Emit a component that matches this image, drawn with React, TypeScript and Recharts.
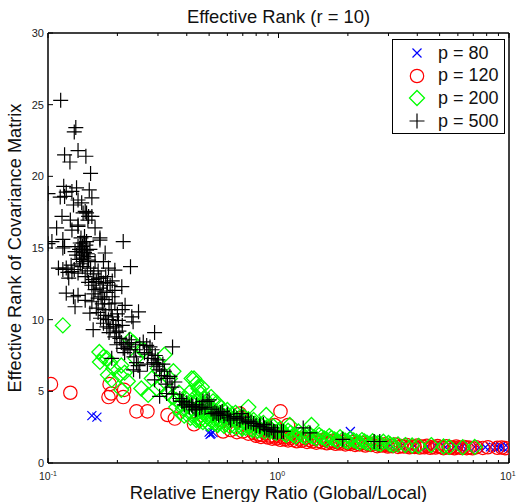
import React from 'react';
import { Scatter, ScatterChart, XAxis, YAxis, Legend } from 'recharts';

const FONT = '"Liberation Sans", Arial, sans-serif';

const xTicks = [0.1, 0.2, 0.3, 0.4, 0.5, 0.6, 0.7, 0.8, 0.9, 1, 2, 3, 4, 5, 6, 7, 8, 9, 10];
const xDecades = [0.1, 1, 10];
const xExponents = ['-1', '0', '1'];
const yTicks = [0, 5, 10, 15, 20, 25, 30];

const p80 = [
  [0.155, 3.3], [0.163, 3.2], [0.5, 2.15], [0.51, 2.05], [0.52, 2.12], [0.505, 2.0], [2.05, 2.2],
  [3.05, 1.25], [3.4, 1.2], [3.9, 1.2], [4.4, 1.15], [4.8, 1.2], [5.3, 1.1], [5.8, 1.15], [6.1, 1.1],
  [6.3, 1.18], [6.6, 1.1], [7.1, 1.12], [7.4, 1.05], [7.9, 1.1], [8.3, 1.12], [8.7, 1.05], [9, 1.1],
  [9.2, 1.15], [9.45, 1.05], [9.9, 1.08],
];

const p120 = [
  [0.103, 5.5], [0.125, 4.9], [0.185, 5.5], [0.183, 4.6], [0.188, 4.85], [0.212, 4.6], [0.214, 5.1],
  [0.242, 3.6], [0.27, 3.6], [0.33, 3.35], [0.355, 3.1], [0.43, 2.7], [0.575, 2.2], [0.69, 3.15],
  [1.02, 3.6], [1.1, 2.65], [0.96, 2.65], [0.68, 3.45], [0.62, 2.3], [0.66, 2.15], [0.7, 2.2],
  [0.74, 2.05], [0.78, 2.1], [0.82, 2.0], [0.85, 1.95], [0.88, 2.05], [0.92, 1.9], [0.96, 1.85],
  [1, 1.9], [1.04, 1.8], [1.08, 1.85], [1.13, 1.75], [1.18, 1.8], [1.24, 1.7], [1.3, 1.72],
  [1.36, 1.62], [1.42, 1.68], [1.5, 1.55], [1.57, 1.62], [1.65, 1.5], [1.72, 1.55], [1.8, 1.45],
  [1.9, 1.5], [2, 1.38], [2.1, 1.45], [2.2, 1.35], [2.3, 1.4], [2.45, 1.3], [2.6, 1.36], [2.75, 1.25],
  [2.9, 1.3], [3.05, 1.2], [3.2, 1.28], [3.4, 1.18], [3.6, 1.25], [3.8, 1.15], [4, 1.22], [4.2, 1.14],
  [4.4, 1.2], [4.65, 1.12], [4.9, 1.18], [5.1, 1.1], [5.35, 1.16], [5.6, 1.1], [5.9, 1.14], [6.1, 1.08],
  [6.4, 1.12], [6.7, 1.08], [7.2, 1.1], [7.7, 1.05], [8.1, 1.1], [8.9, 1.06], [9.3, 1.08], [9.6, 1.04],
  [0.8, 1.9], [0.84, 1.82], [0.9, 1.78], [0.94, 1.7], [0.98, 1.72], [1.02, 1.62], [1.06, 1.66], [1.1, 1.58],
  [1.15, 1.6], [1.2, 1.52], [1.26, 1.55], [1.33, 1.47], [1.4, 1.5], [1.46, 1.42], [1.54, 1.45], [1.62, 1.38],
  [1.7, 1.42], [1.77, 1.34], [1.85, 1.37], [1.95, 1.3], [2.05, 1.33], [2.15, 1.26], [2.25, 1.3], [2.38, 1.22],
  [2.52, 1.26], [2.68, 1.18], [2.82, 1.22], [2.98, 1.15], [3.12, 1.18], [3.3, 1.12], [3.5, 1.15], [3.7, 1.1],
  [3.9, 1.12], [4.1, 1.08], [4.3, 1.1], [4.55, 1.06], [4.8, 1.08], [5.2, 1.04], [5.5, 1.06], [5.8, 1.03],
  [6.25, 1.05], [6.55, 1.04], [6.95, 1.03],
];

const p200 = [
  [0.116, 9.6], [0.167, 7.75], [0.174, 7.4], [0.168, 7.05], [0.18, 7.3], [0.186, 7.0], [0.192, 6.6],
  [0.208, 6.8], [0.205, 6.15], [0.182, 6.15], [0.189, 5.8], [0.208, 5.1], [0.227, 8.6], [0.222, 5.7],
  [0.254, 5.2], [0.272, 4.75], [0.282, 5.9], [0.32, 7.55], [0.35, 6.4], [0.338, 5.9], [0.296, 5.2],
  [0.42, 5.9], [0.44, 5.55], [0.45, 5.2], [0.43, 5.9], [0.465, 5.3], [0.54, 4.2], [0.74, 3.9],
  [0.885, 3.35], [1.39, 2.65], [1.12, 2.65], [0.24, 7.3], [0.26, 7.9], [0.235, 8.4], [0.215, 6.3],
  [0.3, 6.6], [0.31, 5.4], [0.33, 4.9], [0.345, 4.6], [0.36, 4.4], [0.37, 4.9], [0.38, 4.1],
  [0.385, 3.8], [0.395, 4.5], [0.405, 3.6], [0.41, 4.9], [0.42, 4.2], [0.425, 3.4], [0.435, 4.6],
  [0.44, 3.8], [0.45, 3.2], [0.455, 4.9], [0.46, 4.1], [0.47, 3.5], [0.475, 4.5], [0.48, 3.0],
  [0.49, 3.9], [0.5, 3.3], [0.51, 4.6], [0.515, 2.9], [0.525, 3.7], [0.54, 3.1], [0.55, 2.8],
  [0.56, 3.9], [0.575, 3.3], [0.59, 2.7], [0.6, 3.7], [0.62, 3.0], [0.64, 2.6], [0.65, 3.5],
  [0.67, 2.85], [0.69, 2.5], [0.71, 3.2], [0.73, 2.7], [0.76, 2.4], [0.78, 3.0], [0.8, 2.55],
  [0.83, 2.3], [0.86, 2.8], [0.89, 2.35], [0.92, 2.2], [0.95, 2.55], [0.98, 2.1], [1.02, 2.4],
  [1.06, 2.05], [1.1, 2.25], [1.16, 1.95], [1.22, 2.2], [1.28, 1.9], [1.35, 2.1], [1.42, 1.8],
  [1.5, 1.95], [1.58, 1.72], [1.66, 1.88], [1.75, 1.65], [1.85, 1.8], [1.95, 1.55], [2.05, 1.7],
  [2.18, 1.5], [2.3, 1.6], [2.42, 1.42], [2.56, 1.52], [2.7, 1.38], [2.85, 1.48], [3.05, 1.3],
  [3.3, 1.3], [3.55, 1.25], [3.8, 1.22], [4.05, 1.2], [4.6, 1.25], [5.2, 1.15], [5.5, 1.12],
  [6.3, 1.1], [7.1, 1.12],
  [0.36, 3.9], [0.375, 3.5], [0.39, 3.3], [0.4, 4.0], [0.415, 3.15], [0.43, 3.6], [0.44, 3.0], [0.445, 4.3],
  [0.455, 2.95], [0.465, 3.7], [0.47, 2.85], [0.485, 4.1], [0.49, 3.2], [0.495, 2.75], [0.505, 3.6], [0.52, 4.3],
  [0.53, 2.75], [0.535, 3.4], [0.545, 2.65], [0.555, 3.5], [0.565, 3.0], [0.58, 2.6], [0.585, 3.6], [0.6, 2.9],
  [0.605, 3.3], [0.615, 2.55], [0.63, 3.4], [0.645, 3.05], [0.655, 2.45], [0.68, 3.2], [0.695, 2.4], [0.7, 2.9],
  [0.72, 2.45], [0.74, 3.05], [0.75, 2.6], [0.77, 2.3], [0.79, 2.75], [0.81, 2.25], [0.84, 2.65], [0.87, 2.2],
  [0.9, 2.55], [0.93, 2.35], [0.96, 2.15], [1.0, 2.25], [1.04, 2.15], [1.08, 1.95], [1.13, 2.1], [1.19, 1.85],
  [1.25, 2.0], [1.31, 1.8], [1.38, 1.9], [1.46, 1.7], [1.54, 1.82], [1.62, 1.62], [1.7, 1.75], [1.8, 1.55],
  [1.9, 1.65], [2.0, 1.5], [2.12, 1.58], [2.25, 1.42], [2.36, 1.5], [2.5, 1.35], [2.62, 1.42], [2.78, 1.32],
  [3.0, 1.4], [3.15, 1.25],
];

const p500 = [
  [0.1135, 25.3], [0.132, 23.4], [0.13, 23.1], [0.135, 21.8], [0.118, 21.5], [0.1245, 21], [0.146, 21.4],
  [0.153, 20.2], [0.117, 19.3], [0.133, 19.2], [0.12, 18.9], [0.151, 19.05], [0.127, 18.95], [0.1, 18.8],
  [0.113, 18.55], [0.118, 18.6], [0.155, 18.5], [0.135, 18.35], [0.14, 18.15], [0.129, 18], [0.115, 17.2],
  [0.125, 16.95], [0.109, 16.4], [0.135, 16.5], [0.127, 16.25], [0.16, 16.4], [0.147, 17.45], [0.155, 17.2],
  [0.142, 17.45], [0.149, 16.95], [0.168, 15.7], [0.104, 15.45], [0.116, 15.6], [0.118, 15.1], [0.138, 15.35],
  [0.147, 15.45], [0.212, 15.45], [0.145, 17.55], [0.15, 17.2], [0.135, 16.6], [0.1, 15.3], [0.116, 15],
  [0.142, 15.35], [0.135, 15.1], [0.147, 14.85], [0.14, 14.5], [0.131, 14.75], [0.168, 15.55], [0.177, 14.65],
  [0.15, 14.15], [0.142, 14.05], [0.16, 14.05], [0.174, 14.05], [0.228, 13.7], [0.111, 13.6], [0.12, 13.6],
  [0.116, 13.5], [0.127, 13.35], [0.135, 13.25], [0.123, 12.9], [0.145, 13], [0.157, 12.8], [0.183, 13.6],
  [0.195, 13.45], [0.162, 12.65], [0.174, 12.55], [0.186, 12.4], [0.209, 12.3], [0.168, 12.2], [0.195, 12.05],
  [0.12, 11.85], [0.135, 11.7], [0.129, 11.6], [0.145, 11.35], [0.165, 11.5], [0.155, 11.25], [0.195, 11.15],
  [0.216, 11], [0.131, 10.9], [0.162, 10.8], [0.152, 10.45], [0.247, 10.55], [0.231, 10.2], [0.202, 9.95],
  [0.192, 9.65], [0.174, 9.75], [0.186, 9.4], [0.157, 9.3], [0.18, 9.5], [0.234, 9.85], [0.29, 9.1],
  [0.199, 8.25], [0.259, 8.45], [0.227, 7.9], [0.212, 8], [0.347, 8.1], [0.277, 8.1], [0.25, 8.25],
  [0.282, 7.3], [0.3, 7.2], [0.189, 7.3], [0.235, 6.5], [0.25, 6.4], [0.32, 6.4], [0.338, 6.05],
  [0.29, 5.8], [0.355, 5.65], [0.327, 4.85], [0.305, 4.65], [0.373, 4.5], [0.39, 4.05], [0.41, 3.9],
  [0.44, 4.05], [0.38, 4.3], [0.455, 3.85], [0.49, 4.3], [0.52, 3.45], [0.56, 3.5], [0.61, 3.15],
  [0.68, 3], [0.74, 2.9], [0.83, 2.55], [0.95, 2.2], [0.385, 4.3], [0.425, 3.95], [0.47, 4.3],
  [0.5, 4.4], [0.54, 3.45], [0.69, 3.45], [0.74, 3], [0.83, 2.65], [0.965, 2.2], [1.05, 2.2],
  [1.03, 2.2], [1.28, 2.45], [1.37, 2.1], [1.9, 1.65], [2.6, 1.5], [2.75, 1.5], [0.14, 14.9],
  [0.137, 14.2], [0.144, 15.8], [0.148, 14.6], [0.139, 15.7], [0.133, 14.5], [0.153, 13.6], [0.158, 13.2],
  [0.165, 13.4], [0.17, 12.9], [0.178, 13], [0.19, 12.7], [0.18, 11.9], [0.172, 11.1], [0.188, 10.7],
  [0.178, 10.3], [0.2, 10.4], [0.21, 10.7], [0.184, 9.1], [0.195, 8.8], [0.205, 8.7], [0.218, 8.3],
  [0.225, 8.6], [0.24, 7.9], [0.262, 7.7], [0.272, 7.6], [0.288, 7], [0.295, 6.75], [0.31, 6.1],
  [0.325, 5.5], [0.345, 5.3], [0.4, 4.2], [0.435, 3.7], [0.465, 3.9], [0.51, 3.75], [0.58, 3.3],
  [0.64, 3.25], [0.72, 2.8], [0.78, 2.75], [0.87, 2.45], [0.91, 2.3], [0.99, 2.15],
  [0.141, 15.1], [0.144, 14.7], [0.137, 14.9], [0.146, 15.2], [0.143, 14.3], [0.149, 14.4], [0.152, 14.9], [0.138, 13.9],
  [0.13, 13.5], [0.126, 13.8], [0.122, 13.3], [0.141, 13.7], [0.148, 13.4], [0.155, 12.4], [0.16, 12.1], [0.15, 12.6],
  [0.166, 12.9], [0.173, 12], [0.181, 12.6], [0.17, 11.6], [0.176, 11.4], [0.184, 11.1], [0.158, 11.8], [0.19, 11.6],
  [0.165, 10.5], [0.169, 10.1], [0.175, 10.7], [0.183, 10], [0.19, 10.2], [0.197, 9.5], [0.203, 9.2], [0.21, 9.6],
  [0.198, 9.1], [0.208, 8.4], [0.215, 7.7], [0.222, 8.1], [0.23, 8.4], [0.236, 7.4], [0.242, 7], [0.246, 6.8],
  [0.268, 8.2], [0.283, 7.9], [0.27, 6.9], [0.292, 7.5], [0.3, 6.9], [0.305, 6.5], [0.315, 6.9], [0.33, 5.9],
  [0.35, 4.8], [0.42, 4.05], [0.44, 3.75], [0.48, 3.85], [0.53, 3.55], [0.55, 3.35], [0.57, 3.6], [0.6, 3.4],
  [0.62, 3.0], [0.66, 3.1], [0.7, 3.2], [0.76, 2.85], [0.8, 2.6], [0.86, 2.7], [0.89, 2.35], [0.93, 2.45],
];

const legendItems = [
  { label: 'p = 80', shape: 'x' },
  { label: 'p = 120', shape: 'o' },
  { label: 'p = 200', shape: 'd' },
  { label: 'p = 500', shape: '+' },
];

const toRows = (points: number[][]) => points.map(([x, y]) => ({ x, y }));

const Cross = ({ cx, cy }: any) => (
  <path d={`M${cx - 4.5} ${cy - 4.5}L${cx + 4.5} ${cy + 4.5}M${cx - 4.5} ${cy + 4.5}L${cx + 4.5} ${cy - 4.5}`} stroke="#0000ff" strokeWidth={1.2} fill="none" />
);
const Ring = ({ cx, cy }: any) => <circle cx={cx} cy={cy} r={6.7} stroke="#ff0000" strokeWidth={1.2} fill="none" />;
const Diamond = ({ cx, cy }: any) => (
  <path d={`M${cx} ${cy - 7.5}L${cx + 7.5} ${cy}L${cx} ${cy + 7.5}L${cx - 7.5} ${cy}Z`} stroke="#00ff00" strokeWidth={1.3} fill="none" />
);
const Plus = ({ cx, cy }: any) => (
  <path d={`M${cx - 7.5} ${cy}L${cx + 7.5} ${cy}M${cx} ${cy - 7.5}L${cx} ${cy + 7.5}`} stroke="#000000" strokeWidth={1.2} fill="none" />
);

const XTick = ({ x, y, payload, mirror }: any) => {
  const decade = xDecades.indexOf(payload.value);
  const len = decade >= 0 ? 5 : 3;
  return (
    <g>
      <line x1={x} x2={x} y1={y} y2={mirror ? y + len : y - len} stroke="#000" strokeWidth={1} />
      {!mirror && decade >= 0 && (
        <text x={x - 9} y={y + 17} fontSize={10.5} fontFamily={FONT} fill="#222">
          10
          <tspan dy={-4} fontSize={7}>{xExponents[decade]}</tspan>
        </text>
      )}
    </g>
  );
};

const YTick = ({ x, y, payload, right }: any) => (
  <g>
    <line x1={x} x2={right ? x - 5 : x + 5} y1={y} y2={y} stroke="#000" strokeWidth={1} />
    {!right && (
      <text x={x - 4} y={y + 4} fontSize={11} textAnchor="end" fontFamily={FONT} fill="#222">
        {payload.value}
      </text>
    )}
  </g>
);

const Glyph = ({ shape }: { shape: string }) => {
  const c = { cx: 12, cy: 10 };
  return (
    <svg width={24} height={20} style={{ display: 'block' }}>
      {shape === 'x' && <Cross {...c} />}
      {shape === 'o' && <Ring {...c} />}
      {shape === 'd' && <Diamond {...c} />}
      {shape === '+' && <Plus {...c} />}
    </svg>
  );
};

const LegendBox = () => (
  <div
    style={{
      position: 'absolute',
      left: 392,
      top: 39,
      width: 111,
      height: 93,
      boxSizing: 'content-box',
      border: '1px solid #000',
      background: '#fff',
      fontFamily: FONT,
      fontSize: 18,
      color: '#111',
    }}
  >
    {legendItems.map((item, i) => (
      <div key={item.label} style={{ position: 'absolute', top: 2 + i * 22.7, left: 12, height: 22, display: 'flex', alignItems: 'center', whiteSpace: 'nowrap' }}>
        <Glyph shape={item.shape} />
        <span style={{ marginLeft: 9 }}>{item.label}</span>
      </div>
    ))}
  </div>
);

const App = () => {
  const axisLine = { stroke: '#000', strokeWidth: 1.5 };
  return (
    <div style={{ position: 'absolute', left: 0, top: 0 }}>
      <ScatterChart width={516} height={502} margin={{ top: 0, right: 0, bottom: 0, left: 0 }}>
        <XAxis
          xAxisId="bottom"
          type="number"
          dataKey="x"
          scale="log"
          domain={[0.1, 10]}
          ticks={xTicks}
          interval={0}
          height={39}
          tickLine={false}
          tickSize={0}
          tickMargin={0}
          axisLine={axisLine}
          tick={<XTick />}
          allowDataOverflow
          label={{ value: 'Relative Energy Ratio (Global/Local)', position: 'insideBottom', offset: 3, fontSize: 18.4, fontFamily: FONT, fill: '#111' }}
        />
        <XAxis
          xAxisId="top"
          orientation="top"
          type="number"
          dataKey="x"
          scale="log"
          domain={[0.1, 10]}
          ticks={xTicks}
          interval={0}
          height={33}
          tickLine={false}
          tickSize={0}
          tickMargin={0}
          axisLine={axisLine}
          tick={<XTick mirror />}
          allowDataOverflow
          label={{ value: 'Effective Rank (r = 10)', position: 'insideTop', offset: 10, fontSize: 18.4, fontFamily: FONT, fill: '#111' }}
        />
        <YAxis
          yAxisId="left"
          type="number"
          dataKey="y"
          domain={[0, 30]}
          ticks={yTicks}
          interval={0}
          width={48}
          tickLine={false}
          tickSize={0}
          tickMargin={0}
          axisLine={axisLine}
          tick={<YTick />}
          label={{ value: 'Effective Rank of Covariance Matrix', angle: -90, position: 'insideLeft', offset: 15, fontSize: 18.2, fontFamily: FONT, fill: '#111', style: { textAnchor: 'middle' } }}
        />
        <YAxis
          yAxisId="right"
          orientation="right"
          type="number"
          dataKey="y"
          domain={[0, 30]}
          ticks={yTicks}
          interval={0}
          width={7}
          tickLine={false}
          tickSize={0}
          tickMargin={0}
          axisLine={axisLine}
          tick={<YTick right />}
        />
        <Legend content={<LegendBox />} wrapperStyle={{ position: 'absolute', left: 0, top: 0, width: 0, height: 0 }} />
        <Scatter name="p = 80" data={toRows(p80)} xAxisId="bottom" yAxisId="left" shape={<Cross />} isAnimationActive={false} />
        <Scatter name="p = 120" data={toRows(p120)} xAxisId="bottom" yAxisId="left" shape={<Ring />} isAnimationActive={false} />
        <Scatter name="p = 200" data={toRows(p200)} xAxisId="bottom" yAxisId="left" shape={<Diamond />} isAnimationActive={false} />
        <Scatter name="p = 500" data={toRows(p500)} xAxisId="bottom" yAxisId="left" shape={<Plus />} isAnimationActive={false} />
      </ScatterChart>
    </div>
  );
};

export default App;
